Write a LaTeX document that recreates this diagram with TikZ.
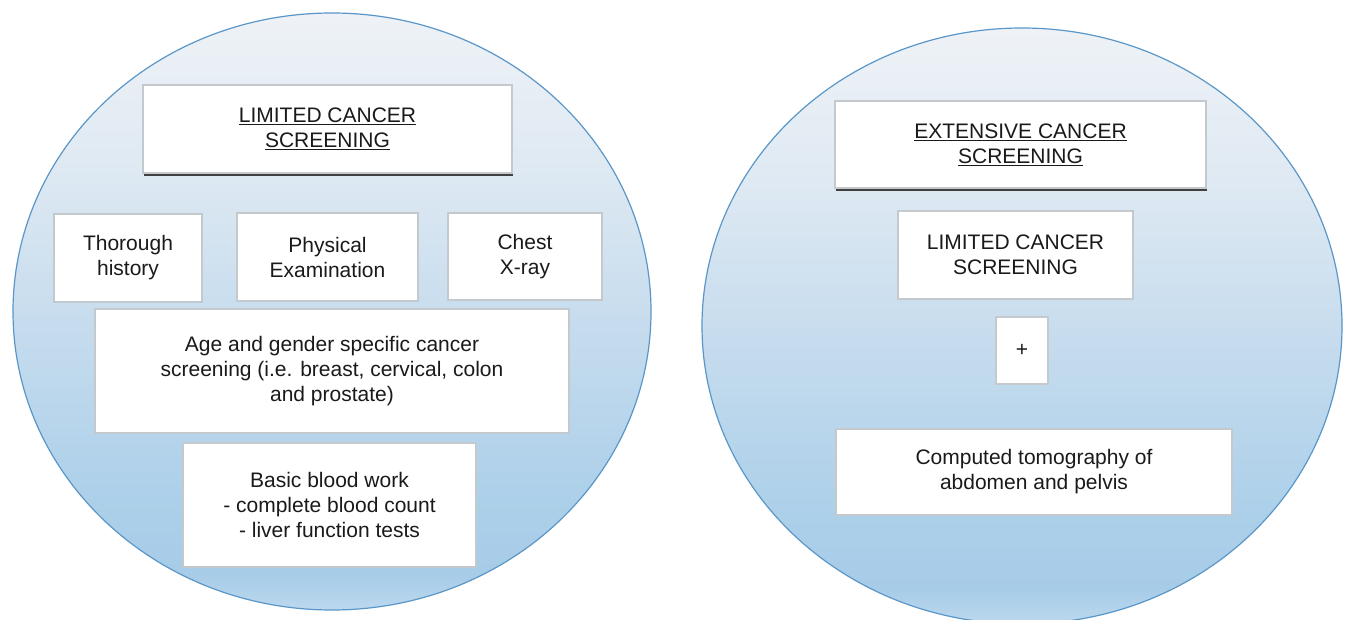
\documentclass[tikz,border=0pt]{standalone}
\usepackage{fontspec}
\setmainfont{Liberation Sans}
\usetikzlibrary{shadows}
\definecolor{dT}{HTML}{EEF2F6}
\definecolor{dU}{HTML}{E0EAF3}
\definecolor{dM}{HTML}{C8DDEE}
\definecolor{dL}{HTML}{AFD1EA}
\definecolor{dB}{HTML}{A7CCE8}
\definecolor{dE}{HTML}{BCD8EE}
\definecolor{rimblue}{HTML}{5A97C8}
\definecolor{boxline}{HTML}{C4C9CE}
\definecolor{inktext}{HTML}{1A1A1A}
\pgfdeclareverticalshading{discshade}{100bp}{color(0bp)=(dE); color(25bp)=(dE); color(28bp)=(dB); color(36bp)=(dL); color(50bp)=(dM); color(63bp)=(dU); color(75bp)=(dT); color(100bp)=(dT)}
\tikzset{
  disc/.style={draw=rimblue, line width=1.2pt, shading=discshade},
  card/.style={draw=boxline, line width=1.2pt, fill=white, text=inktext,
    align=center, inner sep=0pt, font=\fontsize{21}{25}\selectfont},
  headcard/.style={card, drop shadow={shadow xshift=0.8pt, shadow yshift=-3.5pt, fill=black!78, opacity=0.95}},
}
\begin{document}
\begin{tikzpicture}[x=1pt,y=-1pt]
\useasboundingbox (0,0) rectangle (1346,620);
\clip (0,0) rectangle (1346,620);
\fill[white] (0,0) rectangle (1346,620);
% discs
\path[disc] (332,311.5) ellipse [x radius=319, y radius=298.5];
\path[disc] (1022,326) ellipse [x radius=320, y radius=298];
% left disc
\node[headcard, minimum width=369pt, minimum height=88pt] (hdrL) at (327.5,129)
  {\underline{LIMITED CANCER}\\\underline{SCREENING}};
\node[card, minimum width=148pt, minimum height=88pt] (thor) at (128,258) {Thorough\\history};
\node[card, minimum width=181pt, minimum height=88pt] (phys) at (327.5,257) {Physical\\Examination};
\node[card, minimum width=154pt, minimum height=87pt] (chest) at (525,256.5) {Chest\\X-ray};
\node[card, minimum width=474pt, minimum height=124pt] (age) at (332,371)
  {Age and gender specific cancer\\screening (i.e. breast, cervical, colon\\and prostate)};
\node[card, minimum width=293pt, minimum height=124pt] (blood) at (329.5,505)
  {Basic blood work\\- complete blood count\\- liver function tests};
% right disc
\node[headcard, minimum width=371pt, minimum height=87pt] (hdrR) at (1020.5,144.5)
  {\underline{EXTENSIVE CANCER}\\\underline{SCREENING}};
\node[card, minimum width=235pt, minimum height=88pt] (limR) at (1015.5,255) {LIMITED CANCER\\SCREENING};
\node[card, minimum width=52pt, minimum height=67pt] (plus) at (1022,350.5) {+};
\node[card, minimum width=396pt, minimum height=86pt] (ct) at (1034,472)
  {Computed tomography of\\abdomen and pelvis};
\end{tikzpicture}
\end{document}
